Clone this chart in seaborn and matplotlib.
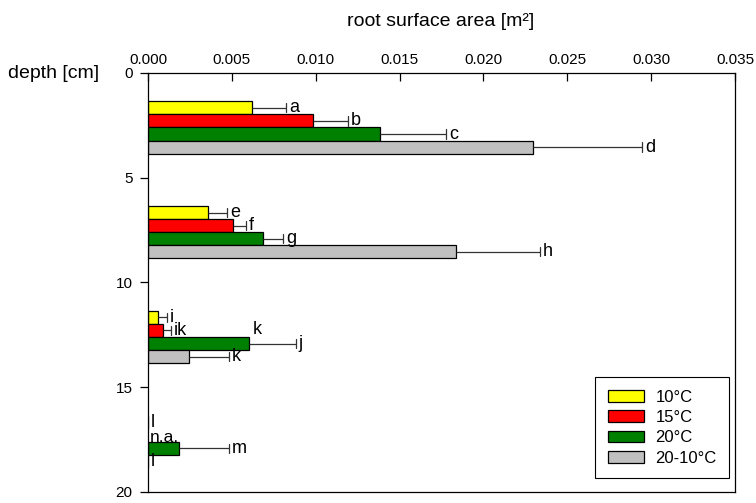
import numpy as np
import pandas as pd
import matplotlib
matplotlib.use("Agg")
import matplotlib.pyplot as plt
import seaborn as sns

# Soil depth layers (centre of each layer, cm)
depths = [2.6, 7.6, 12.6, 17.6]
treatments = ["10°C", "15°C", "20°C", "20-10°C"]
palette = ["#FFFF00", "#FF0000", "#008000", "#C0C0C0"]

# Mean root surface area per layer [m²]; NaN = not analysed
area_10 = [0.00620, 0.00358, 0.00060, 0.0]
area_15 = [0.00984, 0.00507, 0.00089, np.nan]
area_20 = [0.01383, 0.00686, 0.00602, 0.00185]
area_20_10 = [0.02296, 0.01837, 0.00244, 0.0]

# Standard deviations
sd_10 = [0.00203, 0.00113, 0.00053, 0.0]
sd_15 = [0.00209, 0.00077, 0.00048, np.nan]
sd_20 = [0.00394, 0.00119, 0.00280, 0.00298]
sd_20_10 = [0.00650, 0.00500, 0.00239, 0.0]

# Significance letters
letters_10 = ["a", "e", "i", "l"]
letters_15 = ["b", "f", "ik", "n.a."]
letters_20 = ["c", "g", "j", "m"]
letters_20_10 = ["d", "h", "k", "l"]

x_ticks = [0.000, 0.005, 0.010, 0.015, 0.020, 0.025, 0.030, 0.035]
y_ticks = [0, 5, 10, 15, 20]

areas = [area_10, area_15, area_20, area_20_10]
sds = [sd_10, sd_15, sd_20, sd_20_10]
letters = [letters_10, letters_15, letters_20, letters_20_10]

rows = []
for t, a, s, l in zip(treatments, areas, sds, letters):
    for d, v, e, lab in zip(depths, a, s, l):
        rows.append({"depth": d, "treatment": t, "area": v, "sd": e, "letter": lab})
df = pd.DataFrame(rows)

sns.set_theme(style="white")
plt.rcParams["font.family"] = ["Liberation Sans", "DejaVu Sans"]
for key in ["text.color", "axes.labelcolor", "xtick.color", "ytick.color", "axes.edgecolor"]:
    plt.rcParams[key] = "black"

fig = plt.figure(figsize=(7.56, 5.03), dpi=100)
ax = fig.add_axes([0.1958, 0.0219, 0.9722 - 0.1958, 0.8549 - 0.0219])

sns.barplot(
    data=df.dropna(subset=["area"]), x="area", y="depth", hue="treatment",
    hue_order=treatments, palette=palette, orient="y", native_scale=True,
    width=0.5, errorbar=None, edgecolor="black", linewidth=0.9,
    saturation=1, ax=ax, legend=True,
)

ax.set_xlim(0, 0.035)
ax.set_ylim(20, 0)
ax.set_xticks(x_ticks)
ax.set_xticklabels([f"{v:.3f}" for v in x_ticks])
ax.set_yticks(y_ticks)
ax.set_yticklabels([str(v) for v in y_ticks])
ax.xaxis.tick_top()
ax.tick_params(axis="x", direction="in", length=6, width=0.9, pad=4,
               labelsize=11, colors="black", top=True, bottom=False)
ax.tick_params(axis="y", direction="out", length=6, width=0.9, pad=5,
               labelsize=11, colors="black", left=True)
ax.set_xlabel("")
ax.set_ylabel("")
for sp in ax.spines.values():
    sp.set_visible(True)
    sp.set_color("black")
    sp.set_linewidth(0.9)

err_color = "#333333"

# Error bars (right-hand side only) and significance letters
for cont, t in zip(ax.containers, treatments):
    sub = df[(df["treatment"] == t) & df["area"].notna()]
    for bar in cont.patches:
        yc = bar.get_y() + bar.get_height() / 2
        row = sub.iloc[(sub["depth"] - yc).abs().argsort().iloc[0]]
        end = row["area"] + row["sd"]
        if row["sd"] > 0:
            ax.errorbar(end - row["sd"] / 2, yc, xerr=[[row["sd"] / 2], [row["sd"] / 2]],
                        fmt="none", ecolor=err_color, elinewidth=0.9)
            ax.plot([end, end], [yc - 0.22, yc + 0.22], color=err_color, lw=0.9)
        ax.annotate(row["letter"], (end, yc), xytext=(2, 0), textcoords="offset points",
                    ha="left", va="center", fontsize=13)

# Missing 15°C bar in the deepest layer
off = 0.5 * 5 / 4
ax.annotate("n.a.", (0, depths[3] - off / 2), xytext=(1, -1.5), textcoords="offset points",
            ha="left", va="center", fontsize=12.5)
# Extra letter at the end of the 20°C bar in the third layer
green_bar = [b for b in ax.containers[2].patches
             if abs(b.get_y() + b.get_height() / 2 - (depths[2] + off / 2)) < 0.5][0]
ax.annotate("k", (green_bar.get_width(), green_bar.get_y()), xytext=(3, -1),
            textcoords="offset points", ha="left", va="bottom", fontsize=13)

leg = ax.legend(loc="lower right", bbox_to_anchor=(0.99, 0.033), frameon=True,
                fancybox=False, edgecolor="black", framealpha=1, fontsize=12,
                handlelength=2.2, handleheight=0.7, labelspacing=0.32,
                handletextpad=0.66, borderpad=0.75, borderaxespad=0)
leg.get_frame().set_linewidth(0.8)

fig.text(441 / 756, 1 - 22 / 503, "root surface area [m²]", ha="center", va="center", fontsize=14)
fig.text(8 / 756, 1 - 73 / 503, "depth [cm]", ha="left", va="center", fontsize=14)

fig.savefig("out.png", dpi=100)
